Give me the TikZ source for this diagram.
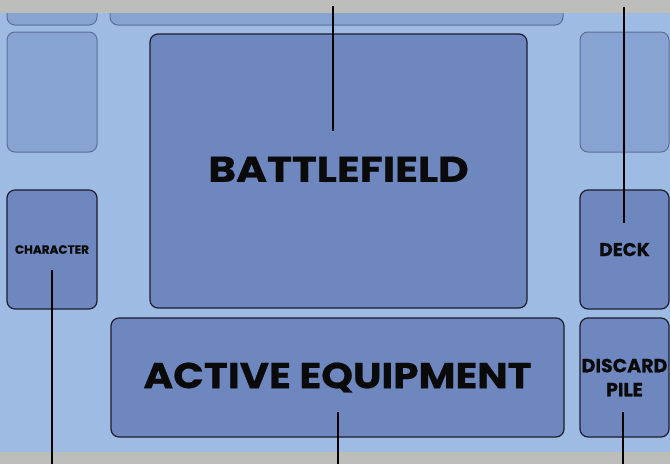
\documentclass[tikz,border=0pt]{standalone}
\usepackage{fontspec}
\setmainfont{Poppins}[BoldFont={* Bold}]
\newfontfamily\heavyfont{Poppins Bold}[FakeBold=0.6]
\definecolor{mat}{HTML}{9EBBE3}
\definecolor{slotdark}{HTML}{6F87BF}
\definecolor{slotlight}{HTML}{87A3D2}
\definecolor{edgelight}{HTML}{5B7099}
\definecolor{edgedark}{HTML}{1C1E2C}
\definecolor{table}{HTML}{BDBDB9}
\definecolor{ink}{HTML}{0A0A0A}
\tikzset{
  zone/.style={rounded corners=8pt, inner sep=0pt, outer sep=0pt, text=ink,
    font=\bfseries, align=center},
  usedzone/.style={zone, fill=slotdark, draw=edgedark, line width=1.2pt},
  emptyzone/.style={zone, fill=slotlight, draw=edgelight, line width=1pt},
  pointer/.style={draw=black, line width=2pt}
}
\begin{document}
\begin{tikzpicture}[x=1pt,y=-1pt]
  \useasboundingbox (0,0) rectangle (670,464);
  % playmat
  \fill[mat] (0,0) rectangle (670,464);
  % slots running off the top edge
  \node[emptyzone, minimum width=90pt, minimum height=85pt] (topleft) at (52,-17.5) {};
  \node[emptyzone, minimum width=453pt, minimum height=85pt] (topmid) at (336.5,-17.5) {};
  % spare slots
  \node[emptyzone, minimum width=90pt, minimum height=120pt] (spareleft) at (52,92) {};
  \node[emptyzone, minimum width=89pt, minimum height=120pt] (spareright) at (624.5,92) {};
  % play zones
  \node[usedzone, minimum width=377pt, minimum height=274pt, font=\heavyfont\fontsize{36}{40}\selectfont] (bf) at (338.5,171) {\raisebox{3.5pt}{\scalebox{1.17}[1]{BATTLEFIELD}}};
  \node[usedzone, minimum width=90pt, minimum height=119pt, font=\heavyfont\fontsize{12}{14}\selectfont] (char) at (52,249.5) {CHARACTER};
  \node[usedzone, minimum width=89pt, minimum height=119pt, font=\heavyfont\fontsize{18.5}{20}\selectfont] (deck) at (624.5,249.5) {\raisebox{-2pt}{DECK}};
  \node[usedzone, minimum width=453pt, minimum height=119pt, font=\heavyfont\fontsize{36}{40}\selectfont] (ae) at (337.5,377.5) {\scalebox{1.12}[1]{ACTIVE EQUIPMENT}};
  \node[usedzone, minimum width=89pt, minimum height=119pt, font=\heavyfont\fontsize{19}{24}\selectfont] (dp) at (624.5,377.5) {DISCARD\\PILE};
  % table surface at top and bottom
  \fill[table] (0,0) rectangle (670,13);
  \fill[table] (0,452) rectangle (670,464);
  % callout lines
  \coordinate (bfout) at (333,6);
  \coordinate (bfin) at (333,131);
  \coordinate (deckout) at (624,7);
  \coordinate (deckin) at (624,223);
  \coordinate (charin) at (52,270);
  \coordinate (charout) at (52,464);
  \coordinate (aein) at (338,412);
  \coordinate (aeout) at (338,464);
  \coordinate (dpin) at (623,412);
  \coordinate (dpout) at (623,464);
  \draw[pointer] (bfout) -- (bfin);
  \draw[pointer] (deckout) -- (deckin);
  \draw[pointer] (charin) -- (charout);
  \draw[pointer] (aein) -- (aeout);
  \draw[pointer] (dpin) -- (dpout);
\end{tikzpicture}
\end{document}
